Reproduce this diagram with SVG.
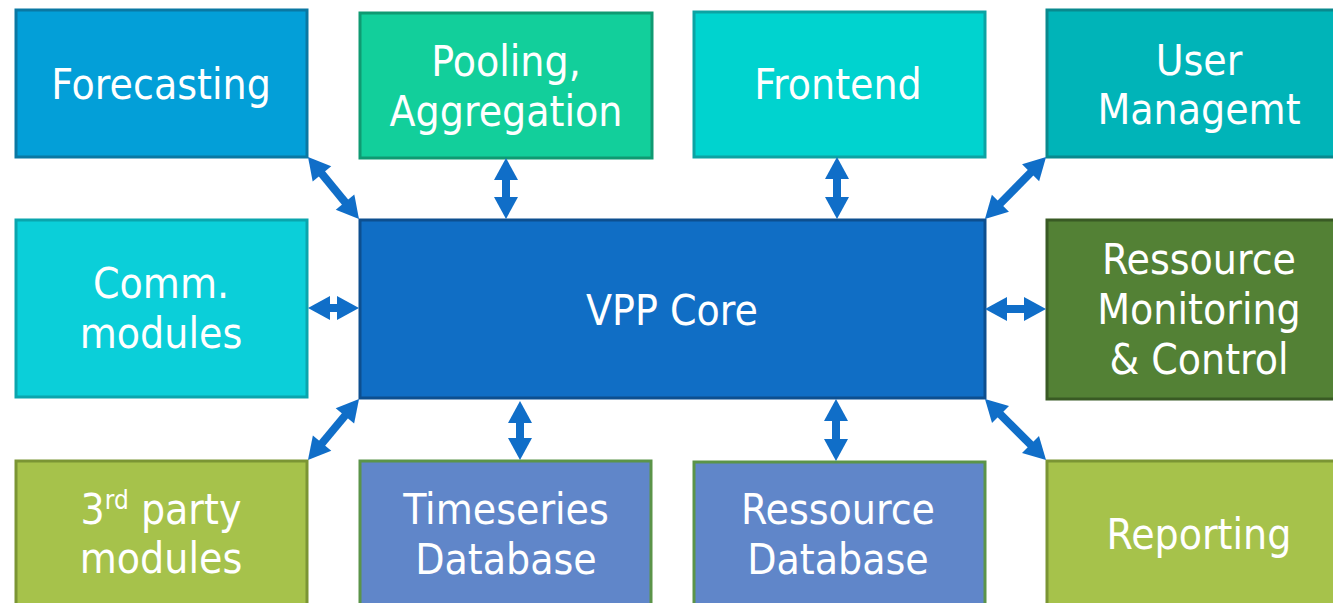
<svg xmlns="http://www.w3.org/2000/svg" width="1333" height="603" viewBox="0 0 1333 603">
<style>
.box{stroke-width:3}
.t{font-family:'DejaVu Sans Condensed','DejaVu Sans',sans-serif;font-stretch:condensed;font-size:42.3px;fill:#ffffff;text-anchor:middle}
.arr{stroke:#106ec8;stroke-width:8;fill:none;marker-start:url(#ah);marker-end:url(#ah)}
</style>
<defs>
<marker id="ah" markerUnits="userSpaceOnUse" viewBox="0 -12 22 24" refX="2" refY="0" markerWidth="22" markerHeight="24" orient="auto-start-reverse" overflow="visible">
<path d="M0,-12 L22,0 L0,12 z" fill="#106ec8"/>
</marker>
</defs>
<rect width="1333" height="603" fill="#ffffff"/>
<g id="forecasting"><rect class="box" x="16" y="10" width="291" height="147" fill="#039fd8" stroke="#0a78a3"/><text class="t" x="161" y="99">Forecasting</text></g>
<g id="pooling"><rect class="box" x="360" y="13" width="292" height="145" fill="#12cf9b" stroke="#0f9a72"/><text class="t" x="506" y="76">Pooling,</text><text class="t" x="506" y="126">Aggregation</text></g>
<g id="frontend"><rect class="box" x="694" y="12" width="291" height="145" fill="#00d3cf" stroke="#0ca3a3"/><text class="t" x="838" y="99">Frontend</text></g>
<g id="user"><rect class="box" x="1047" y="10" width="310" height="147" fill="#00b4b8" stroke="#09898e"/><text class="t" x="1199" y="75">User</text><text class="t" x="1199" y="124">Managemt</text></g>
<g id="comm"><rect class="box" x="16" y="220" width="291" height="177" fill="#0bcfd9" stroke="#0aa5ad"/><text class="t" x="161" y="298">Comm.</text><text class="t" x="161" y="348">modules</text></g>
<g id="vpp"><rect class="box" x="360" y="220" width="625" height="178" fill="#106ec5" stroke="#0d4f8f"/><text class="t" x="672" y="325">VPP Core</text></g>
<g id="monitoring"><rect class="box" x="1047" y="220" width="310" height="179" fill="#538135" stroke="#395a24"/><text class="t" x="1199" y="274">Ressource</text><text class="t" x="1199" y="324">Monitoring</text><text class="t" x="1199" y="374">&amp; Control</text></g>
<g id="thirdparty"><rect class="box" x="16" y="461" width="291" height="160" fill="#a6c24b" stroke="#7b9534"/><text class="t" x="161" y="524">3<tspan font-size="26" dy="-15">rd</tspan><tspan dy="15"> party</tspan></text><text class="t" x="161" y="573">modules</text></g>
<g id="timeseries"><rect class="box" x="360" y="461" width="291" height="160" fill="#6086c9" stroke="#5b9449"/><text class="t" x="506" y="524">Timeseries</text><text class="t" x="506" y="574">Database</text></g>
<g id="resdb"><rect class="box" x="694" y="462" width="291" height="160" fill="#6086c9" stroke="#5b9449"/><text class="t" x="838" y="524">Ressource</text><text class="t" x="838" y="574">Database</text></g>
<g id="reporting"><rect class="box" x="1047" y="461" width="310" height="160" fill="#a6c24b" stroke="#7b9534"/><text class="t" x="1199" y="549">Reporting</text></g>
<g id="connectors">
<line class="arr" x1="320.7" y1="172.4" x2="346.3" y2="203.6"/>
<line class="arr" x1="506" y1="178" x2="506" y2="199"/>
<line class="arr" x1="837" y1="177" x2="837" y2="199"/>
<line class="arr" x1="1032" y1="171.3" x2="999" y2="204.7"/>
<line class="arr" x1="328" y1="308" x2="339" y2="308"/>
<line class="arr" x1="1005" y1="309" x2="1026" y2="309"/>
<line class="arr" x1="346.2" y1="414.3" x2="320.8" y2="444.7"/>
<line class="arr" x1="520" y1="421" x2="520" y2="440"/>
<line class="arr" x1="836" y1="419" x2="836" y2="441"/>
<line class="arr" x1="999.1" y1="413.1" x2="1031.9" y2="445.9"/>
</g>
</svg>
